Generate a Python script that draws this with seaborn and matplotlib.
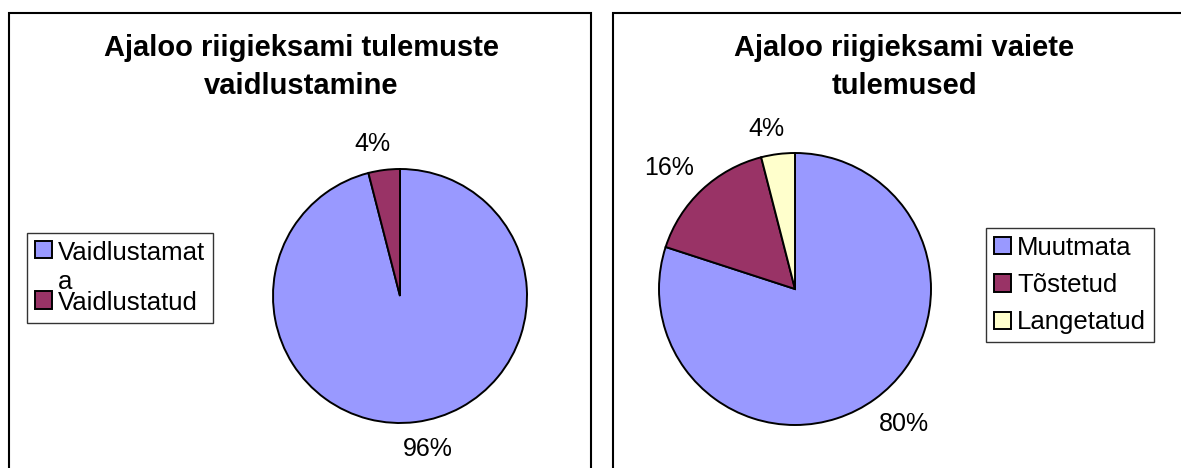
import matplotlib
matplotlib.use("Agg")
import numpy as np
import matplotlib.pyplot as plt
from matplotlib.patches import Rectangle, Patch
import seaborn as sns

# data
left_title = "Ajaloo riigieksami tulemuste\nvaidlustamine"
left_labels = ["Vaidlustamat\na", "Vaidlustatud"]
left_values = [96, 4]

right_title = "Ajaloo riigieksami vaiete\ntulemused"
right_labels = ["Muutmata", "Tõstetud", "Langetatud"]
right_values = [80, 16, 4]

colors = ["#9999FF", "#993366", "#FFFFCC"]

sns.set_theme(style="white")
plt.rcParams["font.family"] = ["Liberation Sans", "DejaVu Sans"]
plt.rcParams["text.color"] = "black"

W, H = 1181, 468
fig = plt.figure(figsize=(W / 100, H / 100), dpi=100)
fig.patch.set_facecolor("white")


def px_rect(x, y, w, h):
    # pixel box (top-left origin) -> figure fraction
    return [x / W, 1 - (y + h) / H, w / W, h / H]


# outer chart frames
for x0, x1 in [(8.5, 591), (612.5, 1190)]:
    fig.patches.append(Rectangle((x0 / W, -0.05), (x1 - x0) / W, 1 - 12.7 / H + 0.05,
                                 transform=fig.transFigure, fill=False,
                                 edgecolor="black", linewidth=1.5))

pies = []


def draw_pie(rect, values, cols):
    ax = fig.add_axes(rect)
    wedges, texts, autotexts = ax.pie(values, colors=cols, startangle=90, counterclock=False,
                                      autopct="%1.0f%%",
                                      wedgeprops=dict(edgecolor="black", linewidth=1.4),
                                      textprops=dict(fontsize=18, color="black"))
    ax.set_xlim(-1, 1)
    ax.set_ylim(-1, 1)
    for t in autotexts:
        t.set_clip_on(False)
    pies.append((ax, wedges, autotexts))
    return ax


draw_pie(px_rect(273, 169, 254, 254), left_values, colors[:2])
draw_pie(px_rect(659, 153, 272, 272), right_values, colors)

fig.text(301 / W, 1 - 67 / H, left_title, ha="center", va="center",
         fontsize=21, fontweight="bold", linespacing=1.45, color="black")
fig.text(904 / W, 1 - 67 / H, right_title, ha="center", va="center",
         fontsize=21, fontweight="bold", linespacing=1.45, color="black")

leg_kw = dict(loc="upper left", fontsize=18.5, frameon=True, fancybox=False,
              edgecolor="black", handlelength=0.66, handleheight=0.66,
              handletextpad=0.25, borderaxespad=0, labelcolor="black")

h_left = [Patch(facecolor=c, edgecolor="black", linewidth=1.4) for c in colors[:2]]
lg = fig.legend(h_left, left_labels, bbox_to_anchor=(27 / W, 1 - 233 / H),
                labelspacing=-0.12, borderpad=0.3, **leg_kw)
lg.get_frame().set_linewidth(1.0)
for t in lg.get_texts():
    t.set_linespacing(1.3)
# handle sits next to the first line of a wrapped label
for col in lg._legend_handle_box.get_children():
    for row in col.get_children():
        row.align = "top"

h_right = [Patch(facecolor=c, edgecolor="black", linewidth=1.4) for c in colors]
lr = fig.legend(h_right, right_labels, bbox_to_anchor=(986 / W, 1 - 228 / H),
                labelspacing=0.52, borderpad=0.3, **leg_kw)
lr.get_frame().set_linewidth(1.0)

# place percentage labels just outside the pie, like a spreadsheet chart does
fig.canvas.draw()
renderer = fig.canvas.get_renderer()
gap_px = 12
ang_shift = 3.0
for ax, wedges, autotexts in pies:
    r_px = ax.get_window_extent().width / 2
    for w, t in zip(wedges, autotexts):
        ang = np.deg2rad((w.theta1 + w.theta2) / 2 + ang_shift)
        bb = t.get_window_extent(renderer)
        ext = bb.width / 2 * abs(np.cos(ang)) + bb.height / 2 * abs(np.sin(ang))
        d = (r_px + gap_px + ext) / r_px
        t.set_position((d * np.cos(ang), d * np.sin(ang)))

fig.savefig("out.png", dpi=100)
